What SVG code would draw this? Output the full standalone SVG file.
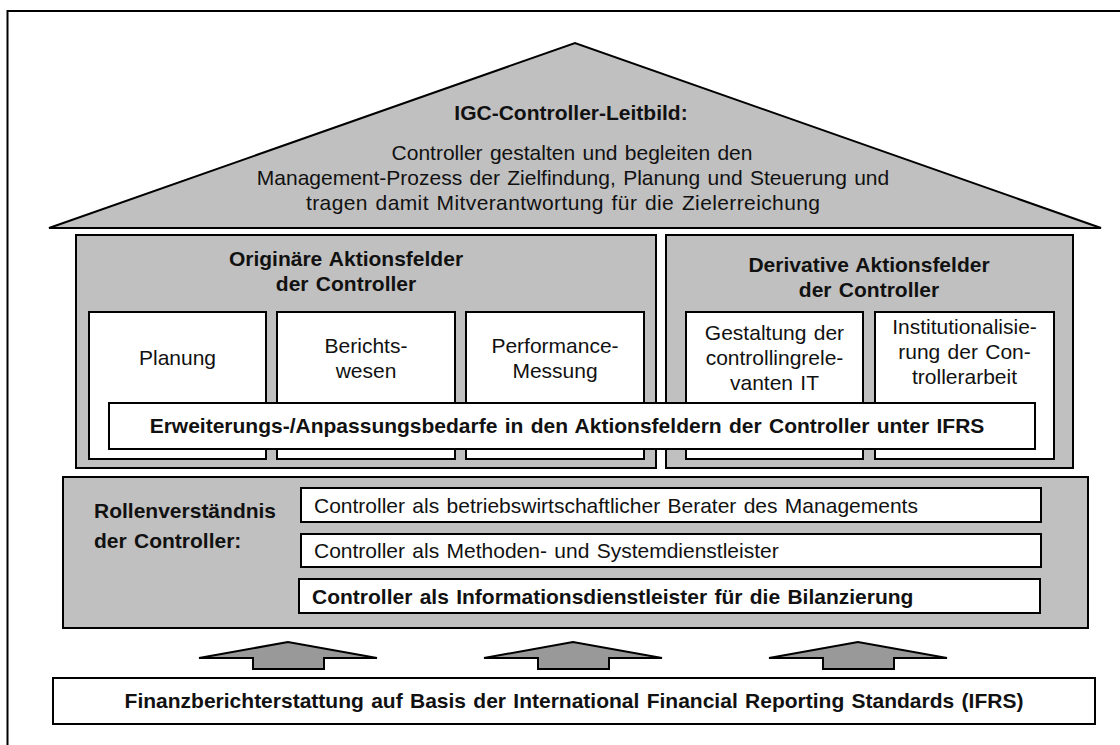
<svg xmlns="http://www.w3.org/2000/svg" width="1120" height="745" viewBox="0 0 1120 745">
<style>
.box{fill:#fff;stroke:#000;stroke-width:2}
.panel{fill:#c0c0c0;stroke:#000;stroke-width:2}
.arrow{fill:#999;stroke:#000;stroke-width:2}
text{font-family:"Liberation Sans",Arial,sans-serif;font-size:21px;fill:#111;word-spacing:1.5px}
.b{font-weight:bold}
.c{text-anchor:middle}
</style>
<defs>
<polygon id="up" class="arrow" points="0,0 -89,16 -35,16 -35,27 36,27 36,16 89,16"/>
</defs>
<rect width="1120" height="745" fill="#fff"/>
<rect id="frame" x="7.5" y="11" width="1140" height="760" fill="none" stroke="#000" stroke-width="2"/>

<g id="roof">
<polygon class="panel" points="49,228 575,43 1101,228"/>
<text class="b c" x="571" y="120">IGC-Controller-Leitbild:</text>
<text class="c" x="572" y="160">Controller gestalten und begleiten den</text>
<text class="c" x="573" y="185">Management-Prozess der Zielfindung, Planung und Steuerung und</text>
<text class="c" x="563" y="210" textLength="514" lengthAdjust="spacing">tragen damit Mitverantwortung für die Zielerreichung</text>
</g>

<g id="originaer">
<rect class="panel" x="76" y="235" width="580" height="233"/>
<text class="b c" x="346" y="266">Originäre Aktionsfelder</text>
<text class="b c" x="346" y="291">der Controller</text>
</g>

<g id="derivativ">
<rect class="panel" x="666" y="235" width="407" height="233"/>
<text class="b c" x="869" y="272">Derivative Aktionsfelder</text>
<text class="b c" x="869" y="297">der Controller</text>
</g>

<g id="planung">
<rect class="box" x="89" y="312" width="177" height="147"/>
<text class="c" x="177.5" y="365">Planung</text>
</g>

<g id="berichtswesen">
<rect class="box" x="277" y="312" width="178" height="147"/>
<text class="c" x="366" y="352.5">Berichts-</text>
<text class="c" x="366" y="377.5">wesen</text>
</g>

<g id="performance">
<rect class="box" x="466" y="312" width="178" height="147"/>
<text class="c" x="555" y="352.5">Performance-</text>
<text class="c" x="555" y="377.5">Messung</text>
</g>

<g id="gestaltung">
<rect class="box" x="686" y="312" width="177" height="147"/>
<text class="c" x="774.5" y="340">Gestaltung der</text>
<text class="c" x="774.5" y="365">controllingrele-</text>
<text class="c" x="774.5" y="390">vanten IT</text>
</g>

<g id="institutionalisierung">
<rect class="box" x="875" y="312" width="179" height="147"/>
<text class="c" x="964.5" y="334">Institutionalisie-</text>
<text class="c" x="964.5" y="359">rung der Con-</text>
<text class="c" x="964.5" y="384">trollerarbeit</text>
</g>

<g id="erweiterung">
<rect class="box" x="109" y="403" width="926" height="46"/>
<text class="b c" x="567" y="433">Erweiterungs-/Anpassungsbedarfe in den Aktionsfeldern der Controller unter IFRS</text>
</g>

<g id="rollen">
<rect class="panel" x="63" y="477" width="1025" height="151"/>
<text class="b" x="94" y="518">Rollenverständnis</text>
<text class="b" x="94" y="548">der Controller:</text>
</g>

<g id="rolle-berater">
<rect class="box" x="301" y="488" width="740" height="34"/>
<text x="314" y="513">Controller als betriebswirtschaftlicher Berater des Managements</text>
</g>

<g id="rolle-methoden">
<rect class="box" x="301" y="534" width="740" height="33"/>
<text x="314" y="558">Controller als Methoden- und Systemdienstleister</text>
</g>

<g id="rolle-information">
<rect class="box" x="299" y="579" width="741" height="34"/>
<text class="b" x="312" y="604">Controller als Informationsdienstleister für die Bilanzierung</text>
</g>

<g id="connectors">
<use href="#up" x="288" y="642"/>
<use href="#up" x="573" y="642"/>
<use href="#up" x="858" y="642"/>
</g>

<g id="ifrs">
<rect class="box" x="53" y="678" width="1042" height="46"/>
<text class="b c" x="574" y="708">Finanzberichterstattung auf Basis der International Financial Reporting Standards (IFRS)</text>
</g>
</svg>
